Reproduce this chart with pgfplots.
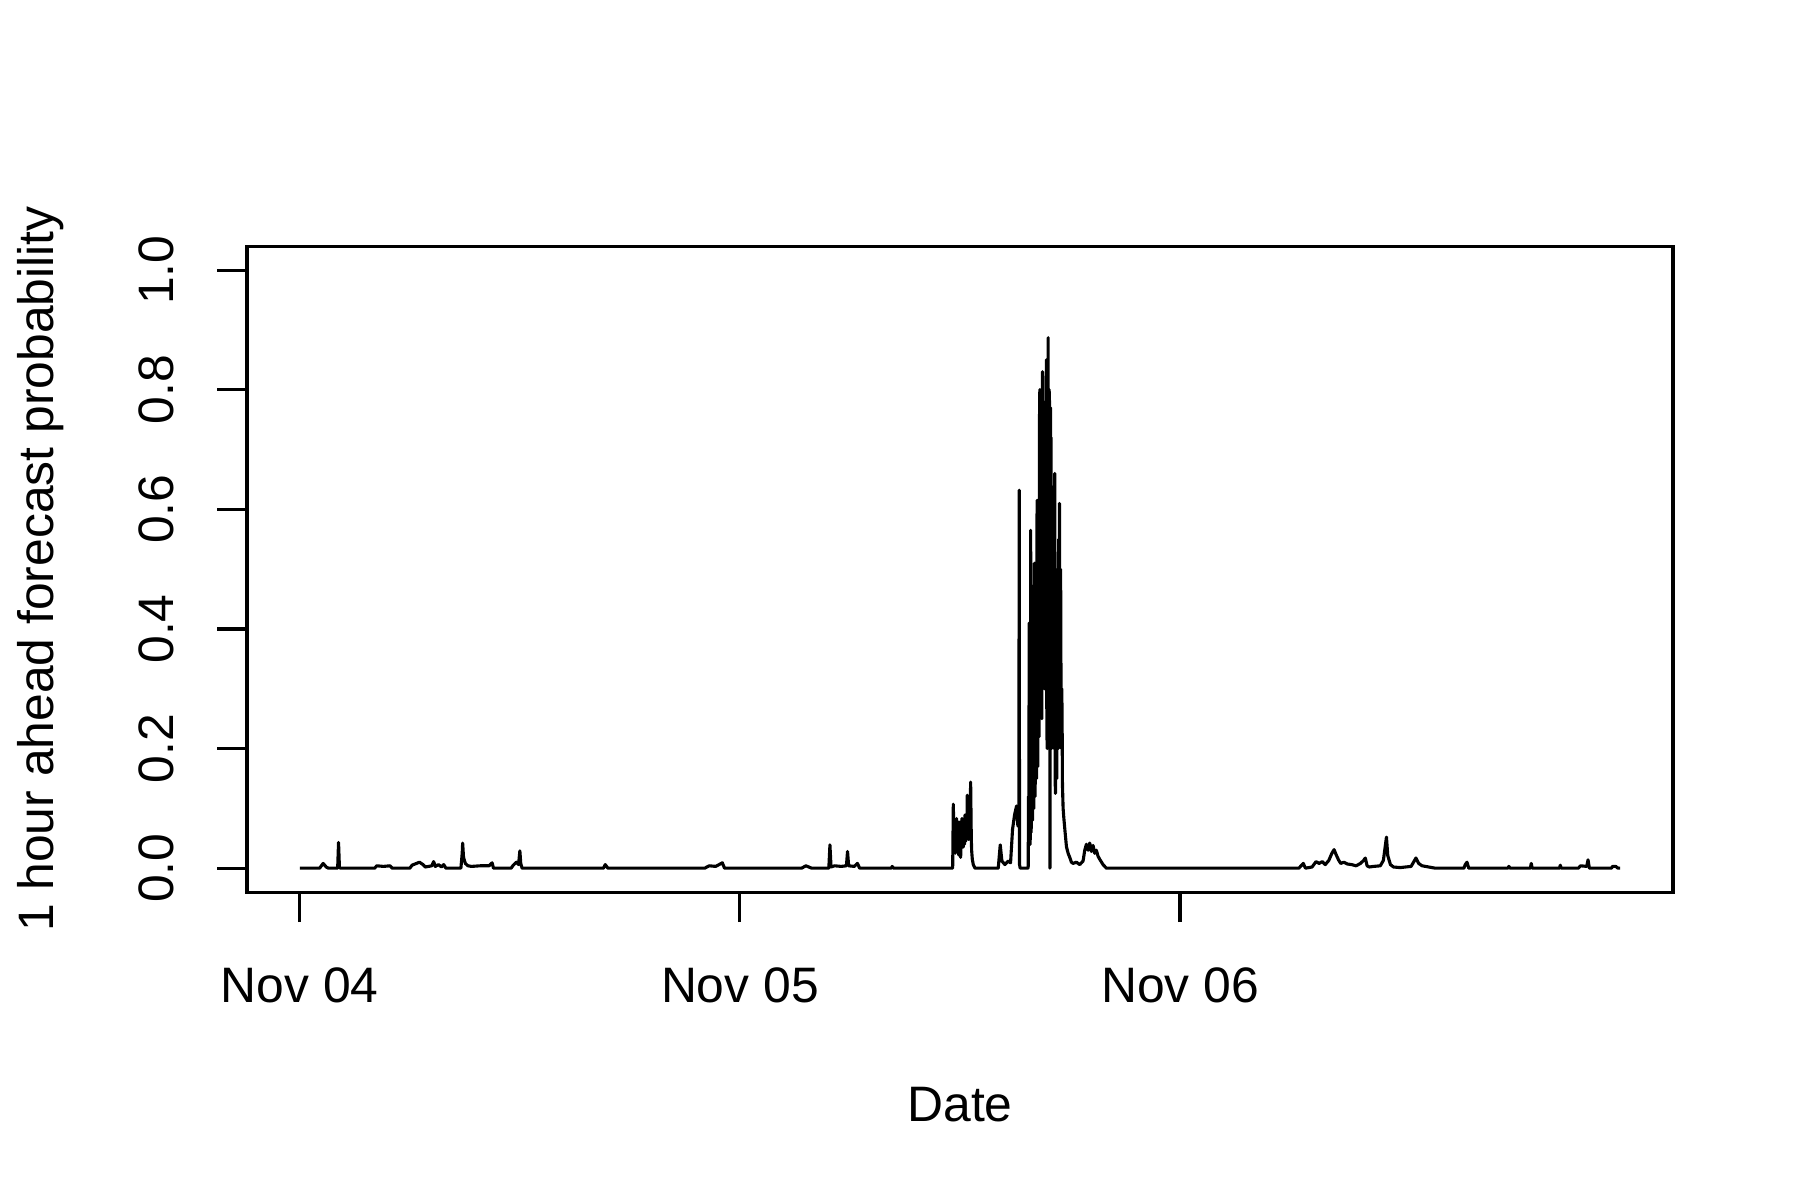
\documentclass[border=0pt]{standalone}
\usepackage{fontspec}
\setmainfont{Liberation Sans}
\usepackage{pgfplots}
\pgfplotsset{compat=1.18}

% time in days from Nov 04 00:00, value = forecast probability
\begin{document}
\fontsize{12}{14.4}\selectfont%
\begin{tikzpicture}
\begin{axis}[
  scale only axis, width=343.5pt, height=155.6pt,
  xmin=-0.12, xmax=3.12, ymin=-0.04, ymax=1.04,
  axis line style={line width=0.75pt},
  tick align=outside, major tick length=7.2pt,
  tick style={line width=0.75pt, black},
  xtick pos=bottom, ytick pos=left,
  xtick={0,1,2}, xticklabels={Nov 04,Nov 05,Nov 06},
  ytick={0,0.2,0.4,0.6,0.8,1}, yticklabels={0.0,0.2,0.4,0.6,0.8,1.0},
  xticklabel style={anchor=base, yshift=-19.3pt, inner sep=0pt},
  yticklabel style={xshift=-10.4pt, rotate=90, anchor=base, inner sep=0pt},
  every axis x label/.style={at={(axis description cs:0.5,0)}, anchor=base, yshift=-55.3pt, inner sep=0pt},
  every axis y label/.style={at={(axis description cs:0,0.5)}, xshift=-46.6pt, rotate=90, anchor=base, inner sep=0pt},
  xlabel={Date}, ylabel={1 hour ahead forecast probability},
  clip=false,
]
\addplot[black, line width=0.75pt, line join=round, no markers] coordinates {
(0,0)(0.045,0)(0.053,0.008)(0.060,0.002)(0.065,0)
(0.086,0)(0.088,0.043)(0.090,0.002)(0.092,0)
(0.17,0)(0.175,0.004)(0.19,0.003)(0.205,0.004)(0.21,0)
(0.25,0)(0.255,0.005)(0.265,0.008)(0.272,0.01)(0.28,0.006)(0.285,0.002)
(0.30,0.004)(0.304,0.011)(0.308,0.003)(0.315,0.006)(0.322,0.002)(0.327,0.006)(0.332,0)
(0.366,0)(0.369,0.025)(0.370,0.042)(0.372,0.018)(0.376,0.008)(0.382,0.004)(0.39,0.003)(0.41,0.004)(0.43,0.004)(0.437,0.009)(0.44,0)
(0.48,0)(0.485,0.005)(0.492,0.01)(0.497,0.006)(0.500,0.029)(0.502,0.008)(0.505,0)
(0.69,0)(0.694,0.006)(0.70,0)
(0.92,0)(0.93,0.004)(0.945,0.003)(0.96,0.009)(0.965,0)
(1.14,0)(1.15,0.004)(1.163,0)
(1.202,0)(1.2045,0.039)(1.207,0.002)(1.215,0.004)(1.23,0.003)(1.242,0.004)(1.2445,0.028)(1.247,0.004)(1.26,0.003)(1.267,0.008)(1.272,0)
(1.344,0)(1.346,0.003)(1.349,0)
(1.48337,0)(1.48488,0.107)(1.48640,0.030)(1.48791,0.070)(1.48942,0.025)(1.49093,0.075)
(1.49244,0.083)(1.49395,0.030)(1.49547,0.070)(1.49698,0.022)(1.49849,0.077)(1.50000,0.030)
(1.50151,0.018)(1.50303,0.070)(1.50454,0.083)(1.50605,0.035)(1.50756,0.036)(1.50907,0.080)
(1.51058,0.040)(1.51134,0.089)(1.51285,0.045)(1.51436,0.090)(1.51587,0.050)(1.51663,0.122)
(1.51814,0.050)(1.51965,0.048)(1.52117,0.110)(1.52268,0.060)(1.52419,0.144)(1.52570,0.050)
(1.52646,0.030)(1.52797,0.015)(1.53024,0.006)(1.53402,0)
(1.58693,0)(1.59146,0.039)(1.59524,0.012)(1.60204,0.006)(1.60960,0.012)(1.61489,0.009)
(1.61943,0.065)(1.62396,0.089)(1.62850,0.104)(1.63152,0.071)(1.63379,0.070)(1.63454,0.632)
(1.63530,0.006)(1.63681,0)(1.63984,0)(1.65269,0)
(1.65495,0.00)(1.65571,0.12)(1.65646,0.05)(1.65722,0.41)(1.65798,0.30)(1.65873,0.06)
(1.65949,0.04)(1.66024,0.30)(1.66062,0.565)(1.66100,0.07)(1.66176,0.06)(1.66251,0.25)
(1.66327,0.35)(1.66402,0.10)(1.66478,0.08)(1.66554,0.38)(1.66629,0.39)(1.66705,0.12)
(1.66780,0.10)(1.66856,0.45)(1.66931,0.51)(1.67007,0.14)(1.67083,0.12)(1.67158,0.48)
(1.67234,0.42)(1.67309,0.15)(1.67385,0.15)(1.67461,0.55)(1.67536,0.615)(1.67612,0.18)
(1.67687,0.17)(1.67763,0.60)(1.67838,0.55)(1.67914,0.25)(1.67990,0.22)(1.68065,0.75)
(1.68141,0.80)(1.68216,0.35)(1.68292,0.30)(1.68368,0.70)(1.68443,0.62)(1.68519,0.28)
(1.68594,0.25)(1.68670,0.78)(1.68745,0.83)(1.68821,0.42)(1.68897,0.40)(1.68972,0.72)
(1.69048,0.70)(1.69123,0.35)(1.69199,0.30)(1.69275,0.75)(1.69350,0.78)(1.69426,0.33)
(1.69501,0.33)(1.69577,0.80)(1.69653,0.85)(1.69728,0.25)(1.69804,0.20)(1.69879,0.82)
(1.69955,0.60)(1.70030,0.887)(1.70106,0.30)(1.70182,0.45)(1.70257,0.80)(1.70333,0.78)
(1.70446,0.00)(1.70560,0.77)(1.70635,0.30)(1.70711,0.72)(1.70786,0.20)(1.70862,0.50)
(1.70937,0.60)(1.71013,0.22)(1.71089,0.21)(1.71164,0.58)(1.71240,0.55)(1.71315,0.22)
(1.71391,0.20)(1.71467,0.62)(1.71542,0.66)(1.71618,0.15)(1.71693,0.125)(1.71769,0.40)
(1.71845,0.45)(1.71920,0.16)(1.71996,0.15)(1.72071,0.48)(1.72147,0.50)(1.72222,0.22)
(1.72298,0.20)(1.72374,0.52)(1.72449,0.55)(1.72525,0.35)(1.72600,0.61)(1.72676,0.28)
(1.72752,0.30)(1.72827,0.50)(1.72903,0.45)(1.72978,0.22)(1.73054,0.20)(1.73130,0.30)
(1.73205,0.25)(1.73281,0.14)(1.73356,0.12)(1.73432,0.10)
(1.73583,0.085)(1.73885,0.06)(1.74188,0.036)(1.74566,0.025)(1.74944,0.018)(1.75321,0.010)
(1.75699,0.008)(1.76455,0.010)(1.77211,0.006)(1.77967,0.012)(1.78345,0.030)(1.78723,0.040)
(1.79101,0.030)(1.79479,0.042)(1.79857,0.028)(1.80234,0.038)(1.80612,0.025)(1.80990,0.030)
(1.81368,0.020)(1.81746,0.015)(1.82502,0.006)(1.83258,0)
(2.27,0)(2.280,0.008)(2.285,0)
(2.30,0.002)(2.309,0.011)(2.316,0.008)(2.323,0.011)(2.33,0.006)(2.338,0.013)(2.345,0.025)
(2.350,0.031)(2.355,0.022)(2.36,0.014)(2.365,0.008)(2.372,0.01)(2.38,0.007)(2.39,0.006)
(2.40,0.004)(2.41,0.008)(2.417,0.013)(2.421,0.017)(2.425,0.004)(2.43,0.002)(2.44,0.003)
(2.455,0.004)(2.462,0.013)(2.469,0.052)(2.472,0.021)(2.478,0.006)(2.485,0.002)(2.50,0.001)
(2.525,0.003)(2.536,0.017)(2.542,0.008)(2.55,0.004)(2.565,0.002)(2.58,0)
(2.645,0)(2.648,0.006)(2.652,0.01)(2.656,0)
(2.745,0)(2.747,0.003)(2.75,0)
(2.796,0)(2.798,0.008)(2.80,0)
(2.862,0)(2.864,0.005)(2.866,0)
(2.905,0)(2.91,0.004)(2.924,0.003)(2.927,0.014)(2.93,0)
(2.98,0)(2.983,0.003)(2.99,0.003)(2.995,0)(3.0,0)
};
\coordinate (bl) at (rel axis cs:0,0);
\coordinate (tr) at (rel axis cs:1,1);
\end{axis}
\pgfresetboundingbox
\path[use as bounding box] ([shift={(-59.5pt,-74.2pt)}]bl) rectangle ([shift={(30.6pt,59.3pt)}]tr);
\end{tikzpicture}
\end{document}
